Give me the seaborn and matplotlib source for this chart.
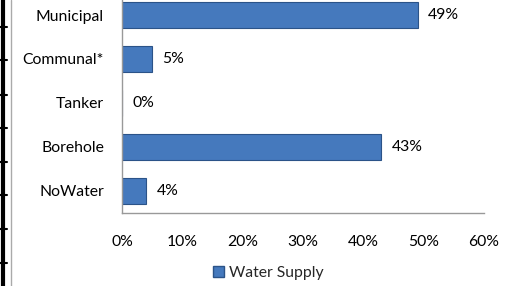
import matplotlib
matplotlib.use("Agg")
import matplotlib.pyplot as plt
import seaborn as sns
import pandas as pd
from matplotlib.lines import Line2D
from matplotlib.patches import Patch

categories = ["Municipal", "Communal*", "Tanker", "Borehole", "NoWater"]
values = [49, 5, 0, 43, 4]
xticks = [0, 10, 20, 30, 40, 50, 60]
series_name = "Water Supply"

sns.set_theme(style="white")
plt.rcParams['font.family'] = ['Lato', 'DejaVu Sans']

df = pd.DataFrame({"cat": categories, "val": values})

fig = plt.figure(figsize=(5.11, 2.86), dpi=100)
ax = fig.add_axes([122/511, 1-213/286, (484-122)/511, 213/286])

bar_color = "#4579BD"
fs = 11.3
sns.barplot(data=df, x="val", y="cat", orient="h", color=bar_color,
            width=0.6, edgecolor="#2B5388", linewidth=0.8, ax=ax, saturation=1)

ax.set_xlim(0, 60)
ax.set_ylim(4.5, 4.5 - 213/44)
ax.set_xticks(xticks)
ax.set_xticklabels([f"{t}%" for t in xticks], fontsize=fs, color="#000000")
ax.tick_params(axis='x', length=0, pad=16)
ax.tick_params(axis='y', length=0, pad=13, labelsize=fs, labelcolor="#000000")
ax.set_xlabel("")
ax.set_ylabel("")
for s in ["top", "right"]:
    ax.spines[s].set_visible(False)
for s in ["left", "bottom"]:
    ax.spines[s].set_color("#999999")
    ax.spines[s].set_linewidth(1.0)

for i, v in enumerate(values):
    ax.text(v + 1.7, i, f"{v}%", va="center", ha="left", fontsize=fs, color="#000000")

handles = [Patch(facecolor=bar_color, edgecolor="#2B5388", label=series_name)]
fig.legend(handles=handles, loc="center", bbox_to_anchor=(268/511, 1-273/286),
           frameon=False, fontsize=fs, handlelength=0.7, handleheight=0.7,
           handletextpad=0.3)

# left border artifacts
fig.add_artist(Line2D([10.5/511, 10.5/511], [0, 1], color="#aaaaaa", lw=1.0))
fig.add_artist(Line2D([2.5/511, 2.5/511], [0, 1], color="#000000", lw=3))
for yy in [27, 60, 95, 128, 162, 195, 229, 263]:
    fig.add_artist(Line2D([0, 7/511], [1-yy/286, 1-yy/286], color="#000000", lw=1.5))

fig.savefig("out.png", dpi=100)
